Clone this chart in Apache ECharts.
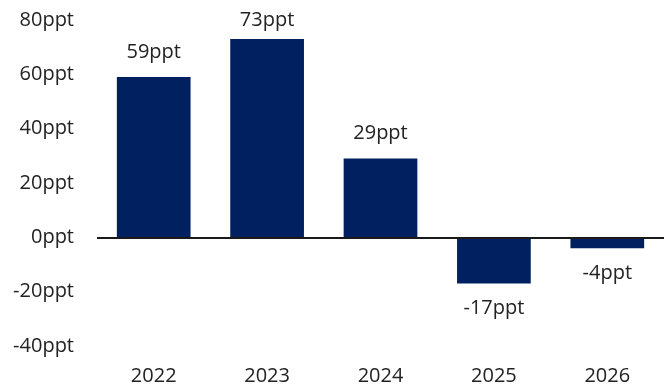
<!DOCTYPE html>
<html>
<head>
<meta charset="utf-8">
<script src="https://cdn.jsdelivr.net/npm/echarts@6/dist/echarts.min.js"></script>
<style>
  html, body { margin: 0; padding: 0; background: #fff; }
  #chart { width: 664px; height: 391px; }
</style>
</head>
<body>
<div id="chart"></div>
<script>
const years = ['2022', '2023', '2024', '2025', '2026'];
const changes = [59, 73, 29, -17, -4];
const yTicks = { min: -40, max: 80, step: 20 };

const FONT = '"Open Sans", "Noto Sans", sans-serif';
const TEXT = '#222222';
const NAVY = '#002060';

// The tallest bar's label sits a little closer so it stays inside the canvas
const barData = changes.map((v, i) => ({
  value: v,
  label: { distance: v === Math.max(...changes) ? 9 : 15 }
}));

const chart = echarts.init(document.getElementById('chart'));
chart.setOption({
  animation: false,
  grid: { left: 97, right: -3, top: 20, bottom: 45 },
  xAxis: {
    type: 'category',
    data: years,
    axisLine: { show: false, onZero: false },
    axisTick: { show: false },
    axisLabel: { color: TEXT, fontFamily: FONT, fontSize: 20, margin: 20 }
  },
  yAxis: {
    type: 'value',
    min: yTicks.min,
    max: yTicks.max,
    interval: yTicks.step,
    splitLine: { show: false },
    axisLine: { show: false },
    axisTick: { show: false },
    axisLabel: {
      color: TEXT, fontFamily: FONT, fontSize: 20, margin: 23,
      formatter: v => v + 'ppt'
    }
  },
  series: [{
    type: 'bar',
    data: barData,
    barWidth: '65%',
    itemStyle: { color: NAVY },
    label: {
      show: true,
      position: 'outside',
      color: TEXT, fontFamily: FONT, fontSize: 20,
      formatter: p => p.value + 'ppt'
    },
    markLine: {
      silent: true,
      symbol: 'none',
      label: { show: false },
      lineStyle: { color: '#1a1a1a', width: 2, type: 'solid' },
      data: [{ yAxis: 0 }]
    }
  }]
});
</script>
</body>
</html>
